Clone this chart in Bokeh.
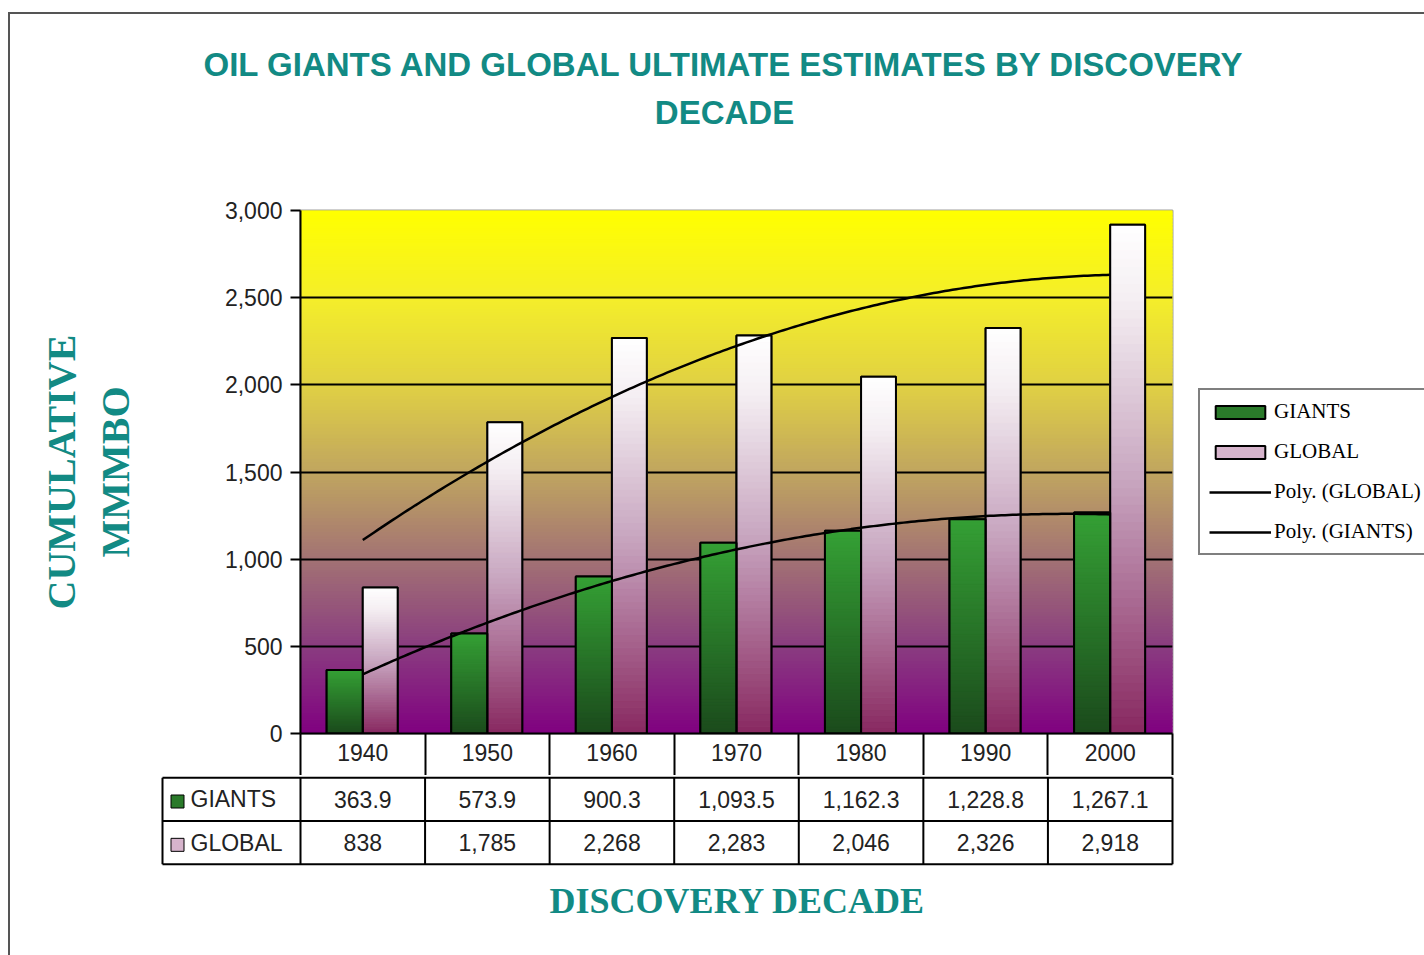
import numpy as np
from bokeh.plotting import figure
from bokeh.models import (FixedTicker, NumeralTickFormatter, Legend, LegendItem, Range1d)
from bokeh.embed import file_html
from bokeh.resources import INLINE
from bokeh.core.properties import value

# ---------------- data ----------------
decades = ["1940", "1950", "1960", "1970", "1980", "1990", "2000"]
giants = [363.9, 573.9, 900.3, 1093.5, 1162.3, 1228.8, 1267.1]
global_est = [838, 1785, 2268, 2283, 2046, 2326, 2918]
y_ticks = [0, 500, 1000, 1500, 2000, 2500, 3000]
title_lines = ["OIL GIANTS AND GLOBAL ULTIMATE ESTIMATES BY DISCOVERY", "DECADE"]

TEAL = "#128A84"
SANS = "Liberation Sans"
SERIF = "Liberation Serif"
EDGE = "#555555"


def hex2rgb(h):
    h = h.lstrip("#")
    return np.array([int(h[i:i + 2], 16) for i in (0, 2, 4)], dtype=float)


def interp_color(f, stops):
    for (f0, c0), (f1, c1) in zip(stops[:-1], stops[1:]):
        if f <= f1:
            t = 0 if f1 == f0 else (f - f0) / (f1 - f0)
            c = hex2rgb(c0) * (1 - t) + hex2rgb(c1) * t
            return "#%02x%02x%02x" % tuple(int(round(v)) for v in c)
    return stops[-1][1]


BG_STOPS = [(0.0, "#800080"), (1 / 6, "#8A3C80"), (2 / 6, "#A27274"), (3 / 6, "#C0A560"),
            (4 / 6, "#E0D044"), (5 / 6, "#F4EE2A"), (1.0, "#FFFF00")]
GREEN_STOPS = [(0.0, "#1B4A1C"), (1.0, "#35A035")]
GLOBAL_STOPS = [(0.0, "#882860"), (0.5, "#C8A6C0"), (0.85, "#F4EEF2"), (1.0, "#FFFFFF")]

n = len(decades)
centers = np.arange(n) + 0.5
YMAX = y_ticks[-1]

# ---------------- title strip ----------------
TH = 140
tt = figure(width=1424, height=TH, x_range=Range1d(0, 1424), y_range=Range1d(TH, 0),
            min_border=0, toolbar_location=None, output_backend="svg",
            x_axis_location=None, y_axis_location=None,
            styles={"background":
                    f"linear-gradient({EDGE},{EDGE}) 8px 12px / 2px 2000px no-repeat, "
                    f"linear-gradient({EDGE},{EDGE}) 8px 12px / 2000px 2px no-repeat, #ffffff"})
tt.border_fill_color = None
tt.background_fill_color = None
tt.outline_line_color = None
tt.grid.visible = False
tt.text(x=[724, 724], y=[64, 112], text=title_lines, text_align="center",
        text_baseline="middle", text_font=value(SANS), text_font_style="bold",
        text_font_size="33px", text_color=TEAL)

# ---------------- main chart ----------------
p = figure(width=1424, height=775 - TH, frame_width=872, frame_height=523,
           x_range=Range1d(0, n), y_range=Range1d(0, YMAX),
           min_border_left=300, min_border_right=252, min_border_top=210 - TH,
           min_border_bottom=42, toolbar_location=None, output_backend="svg",
           styles={"background":
                   f"linear-gradient({EDGE},{EDGE}) 8px 0px / 2px 2000px no-repeat, #ffffff"})
p.border_fill_color = None
p.outline_line_color = "#A0A0A0"
p.outline_line_width = 2

# background gradient strips
NS = 150
b = np.linspace(0, YMAX, NS + 1)
bg_cols = [interp_color((k + 0.5) / NS, BG_STOPS) for k in range(NS)]
p.quad(left=0, right=n, bottom=b[:-1], top=b[1:], fill_color=bg_cols,
       line_color=bg_cols, line_width=1.5, level="image")

# bars (base fill, used for legend)
gw, bw = 0.29, 0.28
r_g = p.vbar(x=centers - gw / 2, width=gw, top=giants, bottom=0,
             fill_color="#2A7A2A", line_color="black", line_width=2)
r_gl = p.vbar(x=centers + bw / 2, width=bw, top=global_est, bottom=0,
              fill_color="#D6B4CC", line_color="black", line_width=2)

# gradient segments on bars
M = 60
L, R, B, T, C = [], [], [], [], []
for c, v in zip(centers, giants):
    for k in range(M):
        L.append(c - gw); R.append(c); B.append(v * k / M); T.append(v * (k + 1) / M)
        C.append(interp_color((k + 0.5) / M, GREEN_STOPS))
for c, v in zip(centers, global_est):
    for k in range(M):
        L.append(c); R.append(c + bw); B.append(v * k / M); T.append(v * (k + 1) / M)
        C.append(interp_color((k + 0.5) / M, GLOBAL_STOPS))
p.quad(left=L, right=R, bottom=B, top=T, fill_color=C, line_color=C, line_width=1)

# outlines
p.vbar(x=centers - gw / 2, width=gw, top=giants, bottom=0,
       fill_color=None, line_color="black", line_width=2)
p.vbar(x=centers + bw / 2, width=bw, top=global_est, bottom=0,
       fill_color=None, line_color="black", line_width=2)

# polynomial trend lines (2nd order, fitted to the data)
xs = np.linspace(centers[0], centers[-1], 200)
l_gl = p.line(xs, np.polyval(np.polyfit(centers, global_est, 2), xs),
              line_color="black", line_width=2.5)
l_g = p.line(xs, np.polyval(np.polyfit(centers, giants, 2), xs),
             line_color="black", line_width=2.5)

# axes
p.yaxis.ticker = FixedTicker(ticks=y_ticks)
p.yaxis.formatter = NumeralTickFormatter(format="0,0")
p.yaxis.major_label_text_font = SANS
p.yaxis.major_label_text_font_size = "23px"
p.yaxis.major_label_text_color = "#222222"
p.yaxis.major_label_standoff = 8
p.yaxis.major_tick_out = 10
p.yaxis.major_tick_in = 0
p.yaxis.major_tick_line_width = 2
p.yaxis.major_tick_line_color = "black"
p.yaxis.minor_tick_line_color = None
p.yaxis.axis_line_color = "black"
p.yaxis.axis_line_width = 2
p.yaxis.axis_label = "CUMULATIVE\nMMMBO"
p.yaxis.axis_label_text_font = SERIF
p.yaxis.axis_label_text_font_style = "bold"
p.yaxis.axis_label_text_font_size = "40px"
p.yaxis.axis_label_text_color = TEAL
p.yaxis.axis_label_standoff = 84

p.xaxis.ticker = FixedTicker(ticks=[float(c) for c in centers],
                             minor_ticks=list(range(n + 1)))
p.xaxis.major_label_overrides = {float(c): d for c, d in zip(centers, decades)}
p.xaxis.major_label_text_font = SANS
p.xaxis.major_label_text_font_size = "23px"
p.xaxis.major_label_text_color = "#222222"
p.xaxis.major_label_standoff = -32
p.xaxis.major_tick_line_color = None
p.xaxis.major_tick_out = 0
p.xaxis.major_tick_in = 0
p.xaxis.minor_tick_out = 42
p.xaxis.minor_tick_in = 0
p.xaxis.minor_tick_line_color = "black"
p.xaxis.minor_tick_line_width = 2
p.xaxis.axis_line_color = "black"
p.xaxis.axis_line_width = 2

p.xgrid.visible = False
p.ygrid.ticker = FixedTicker(ticks=y_ticks[1:-1])
p.ygrid.grid_line_color = "black"
p.ygrid.grid_line_width = 2

# legend (in the right panel)
legend = Legend(items=[LegendItem(label="GIANTS", renderers=[r_g]),
                       LegendItem(label="GLOBAL", renderers=[r_gl]),
                       LegendItem(label="Poly. (GLOBAL)", renderers=[l_gl]),
                       LegendItem(label="Poly. (GIANTS)", renderers=[l_g])],
                location=(26, 178))
legend.border_line_color = "black"
legend.border_line_width = 2
legend.background_fill_color = "white"
legend.background_fill_alpha = 1
legend.label_text_font = SERIF
legend.label_text_font_size = "21px"
legend.label_text_color = "black"
legend.glyph_width = 62
legend.glyph_height = 16
legend.label_height = 18
legend.spacing = 15
legend.padding = 9
legend.margin = 0
legend.label_standoff = 3
p.add_layout(legend, "right")

# ---------------- data table ----------------
PXU = 872 / n
x0 = -138 / PXU
pad = 2 / PXU
t = figure(width=1424, height=180, frame_width=1154, frame_height=91,
           x_range=Range1d(x0 - pad, x0 - pad + 1154 / PXU), y_range=Range1d(-0.05, 2.05),
           min_border_left=160, min_border_right=110, min_border_top=0,
           min_border_bottom=89, toolbar_location=None, output_backend="svg",
           y_axis_location=None,
           styles={"background":
                   f"linear-gradient({EDGE},{EDGE}) 8px 0px / 2px 2000px no-repeat, #ffffff"})
t.border_fill_color = None
t.background_fill_color = None
t.outline_line_color = None
t.grid.visible = False
t.xaxis.ticker = FixedTicker(ticks=[])
t.xaxis.axis_line_color = None
t.xaxis.major_tick_line_color = None
t.xaxis.minor_tick_line_color = None
t.xaxis.major_tick_out = 0
t.xaxis.minor_tick_out = 0
t.xaxis.major_label_standoff = 0
t.xaxis.axis_label = "DISCOVERY DECADE"
t.xaxis.axis_label_text_font = SERIF
t.xaxis.axis_label_text_font_style = "bold"
t.xaxis.axis_label_text_font_size = "36px"
t.xaxis.axis_label_text_color = TEAL
t.xaxis.axis_label_standoff = 14

t.segment(x0=[x0] * 3, x1=[n] * 3, y0=[0, 1, 2], y1=[0, 1, 2],
          line_color="black", line_width=2)
vx = [x0] + list(range(n + 1))
t.segment(x0=vx, x1=vx, y0=[0] * len(vx), y1=[2] * len(vx),
          line_color="black", line_width=2)

t.text(x=centers, y=[1.5] * n, text=[f"{v:,.1f}" for v in giants],
       text_align="center", text_baseline="middle", text_font=value(SANS),
       text_font_size="23px", text_color="#222222")
t.text(x=centers, y=[0.5] * n, text=[f"{v:,.0f}" for v in global_est],
       text_align="center", text_baseline="middle", text_font=value(SANS),
       text_font_size="23px", text_color="#222222")

t.rect(x=[x0 + 15 / PXU] * 2, y=[1.45, 0.45], width=13, height=13,
       width_units="screen", height_units="screen",
       fill_color=["#2A7A2A", "#D6B4CC"], line_color="black", line_width=1)
t.text(x=[x0 + 28 / PXU] * 2, y=[1.5, 0.5], text=["GIANTS", "GLOBAL"],
       text_align="left", text_baseline="middle", text_font=value(SANS),
       text_font_size="23px", text_color="#222222")

open("out.html", "w").write(file_html([tt, p, t], INLINE))
